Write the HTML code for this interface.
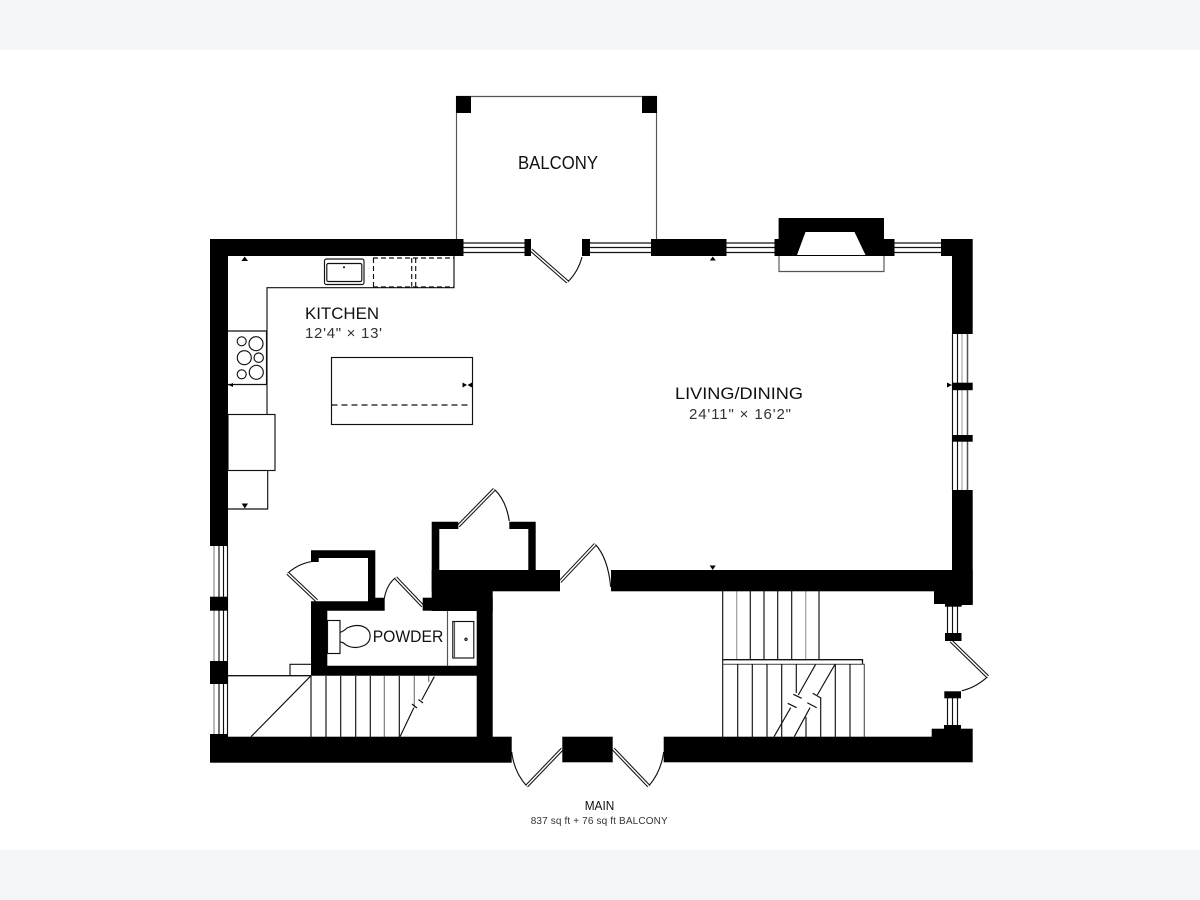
<!DOCTYPE html>
<html><head><meta charset="utf-8"><style>
html,body{margin:0;padding:0;background:#fff}
svg{display:block}
text{font-family:"Liberation Sans",sans-serif;fill:#111}
</style></head><body>
<svg width="1200" height="900" viewBox="0 0 1200 900" xmlns="http://www.w3.org/2000/svg">
<rect width="1200" height="900" fill="#fff"/>
<rect width="1200" height="50" fill="#f5f6f8"/>
<rect y="850" width="1200" height="50" fill="#f5f6f8"/>

<!-- thin lines -->
<g fill="none" stroke="#111" stroke-width="1.15">
<!-- balcony -->
<path stroke="#555" d="M456.5 239V96.5H656.5V239"/>
<!-- windows top -->
<path d="M463 243H525M463 247.5H525M463 252.5H525M590 243H651M590 247.5H651M590 252.5H651M726 243H775M726 247.5H775M726 252.5H775M894 243H941M894 247.5H941M894 252.5H941"/>
<!-- right windows -->
<path d="M952.5 334V490M957.5 334V490"/>
<path stroke="#bbb" stroke-width="1.5" d="M962 334V490"/>
<path stroke="#555" stroke-width="1.5" d="M967.5 334V490"/>
<!-- left windows -->
<path d="M219 546V734M223.5 546V734M227.5 546V734"/>
<path stroke="#888" d="M214 546V734"/>
<!-- side door windows -->
<path d="M947.5 604V634M952.5 604V634M957.5 604V634M947.5 698V726M952.5 698V726M957.5 698V726"/>
<!-- hearth -->
<path stroke="#555" d="M779 256V271.5H884V256"/>
<!-- kitchen counter -->
<path d="M454 256V287.7H267V414M228 331H266.5V384.5H228M267.7 470V509H228"/>
<rect x="324.5" y="259" width="39.5" height="25.5" rx="2"/>
<rect x="326.8" y="263.5" width="35" height="18" rx="1.5"/>
<path stroke-dasharray="5 3" d="M373.5 258V286.7M411.7 258V286.7M415.7 258V286.7M373 258H454M373 287H454"/>
<circle cx="241.7" cy="341.3" r="4.5"/><circle cx="256" cy="343.7" r="7"/><circle cx="244.3" cy="357.7" r="7"/>
<circle cx="258.7" cy="357.7" r="4.7"/><circle cx="241.7" cy="374.3" r="4.5"/><circle cx="256.3" cy="372.3" r="7"/>
<rect x="228" y="414.5" width="47" height="56"/>
<rect x="331.5" y="357.5" width="141" height="67"/>
<path stroke-dasharray="6 4" stroke-width="1.3" d="M331.5 405H470"/>
<!-- powder -->
<path stroke="#555" d="M447.5 611V666"/>
<rect x="327.5" y="620.5" width="12.5" height="33"/>
<rect x="452.8" y="621.5" width="21" height="36.5"/>
<path stroke="#555" d="M454.5 622V658"/>
<circle cx="466" cy="639.3" r="1.1"/>
<path d="M340 632.5Q344 631 347 628Q358 623 366 628Q371 632 370 637Q370 642 365 645Q355 650 346 645Q343 642 340 642"/>
<!-- small rect & stair left -->
<path d="M290 675.7V664.3H311"/>
<path stroke-width="1.3" d="M228 675.7H311"/>
<path d="M311 676V737M326 676V737M340.7 676V737M355.7 676V737M370.3 676V737M399.3 676V737"/>
<path stroke="#777" d="M384.3 676V737M414.3 676V708M428.7 676V682"/>
<path d="M311 675.7L251 736.7M434.3 676.7L421.7 700M413.7 708L400 736.7M418.5 699.5L423 703M412 704L417 708"/>
<!-- stair right -->
<path d="M722.7 591V737M750.3 591V660M764 591V660M777.7 591V660M791.7 591V660M819 591V660"/>
<path stroke="#999" d="M736.7 591V660M805.7 591V660"/>
<path stroke-width="1.3" d="M722.7 659.7H862.5V664.3"/>
<path stroke="#555" d="M722.7 664.3H864.3V737"/>
<path d="M737.7 664V737M752.3 664V737M767 664V737M781.7 664V737M796.3 664V693M806 717V737M820.7 698V737M835.3 664V737M850 664V737"/>
<path d="M815.7 664.3L798.3 695M835 664.3L817.3 695M790.7 707.7L774 736.7M810 707.7L794.3 736.7M793.3 694.3L801.7 698.3M812.7 693.3L821.3 698.3M787.7 703.3L796.7 707.7M807.3 702.7L816.7 707.7"/>
<!-- door arcs -->
<path d="M567.6 282Q578 272 582 257"/>
<path d="M494.3 489.3Q506 500 509.3 521"/>
<path d="M287.7 573.3Q298 564 311 561.7"/>
<path d="M395.7 577.7Q387 584 384.3 598.3"/>
<path d="M595.3 544.3Q608 558 610.7 587"/>
<path d="M526.7 786Q514 772 511.7 752"/>
<path d="M648.7 786Q661 772 663.7 752"/>
<path d="M987.7 676.7Q975 688 961.7 690.7"/>
</g>

<!-- door leaves -->
<g fill="none" stroke="#111" stroke-width="3.6">
<path d="M531 250L567.6 282M458.3 526L494.3 489.3M316.7 600.7L287.7 573.3M422.7 606L395.7 577.7M560 581.7L595.3 544.3M562.3 749L526.7 786M613.3 749L648.7 786M951 641L987.7 676.7"/>
</g>
<g fill="none" stroke="#fff" stroke-width="1.5">
<path d="M531 250L567.6 282M458.3 526L494.3 489.3M316.7 600.7L287.7 573.3M422.7 606L395.7 577.7M560 581.7L595.3 544.3M562.3 749L526.7 786M613.3 749L648.7 786M951 641L987.7 676.7"/>
</g>

<!-- walls -->
<g fill="#000">
<rect x="456" y="96" width="15" height="17"/>
<rect x="642" y="96" width="15" height="17"/>
<rect x="210" y="239" width="253.5" height="17"/>
<rect x="210" y="239" width="18" height="307"/>
<rect x="524.5" y="239" width="6.5" height="17"/>
<rect x="582" y="239" width="8" height="17"/>
<rect x="651" y="239" width="75.5" height="17"/>
<!-- fireplace -->
<path fill-rule="evenodd" d="M778.6 218H884V239H894.5V256H774.5V239H778.6ZM805.5 232L797 255H865.5L854.5 232Z"/>
<path d="M941 239H972.7V334H952V256H941Z"/>
<rect x="952" y="382.7" width="20.7" height="7.5"/>
<rect x="952" y="435" width="20.7" height="6.7"/>
<rect x="952" y="490" width="20.7" height="115"/>
<!-- south wall of living -->
<rect x="611" y="570" width="341" height="21.3"/>
<rect x="934" y="570" width="38.7" height="34"/>
<rect x="945" y="604" width="16.7" height="2.7"/>
<rect x="945" y="633" width="16.5" height="8"/>
<rect x="944.3" y="691.3" width="16.7" height="7"/>
<rect x="944" y="725" width="17" height="4"/>
<rect x="931.7" y="728.7" width="41" height="8.5"/>
<rect x="663.7" y="736.7" width="309" height="25.6"/>
<rect x="562.3" y="736.7" width="50.4" height="25.6"/>
<!-- left -->
<rect x="210" y="596.7" width="18" height="14"/>
<rect x="210" y="661" width="18" height="23"/>
<rect x="210" y="734" width="18" height="4"/>
<rect x="210" y="736.7" width="301.7" height="26"/>
<!-- closet 1 and powder walls -->
<path d="M311 550.3H375.3V597.7H384.7V610.7H327.3V665.7H476.7V610H492.7V737H476.7V675.7H311V601.3H368V558H318.7V562H311Z"/>
<rect x="431.7" y="570" width="128.3" height="21.3"/>
<rect x="431.7" y="570" width="61" height="41"/>
<rect x="422.7" y="597.7" width="70" height="13"/>
<!-- closet 2 -->
<path d="M431.7 521.7H458.3V529H439.3V570H431.7Z"/>
<path d="M509.3 521.7H535.7V570H528.3V529H509.3Z"/>
<!-- arrowheads -->
<path d="M241.5 261L244.7 256.5L248 261ZM709.8 260.5L712.8 256.5L715.8 260.5ZM709.7 565.5H715.7L712.7 570ZM241.7 503.5H248L244.8 508.5ZM233 383L228.5 385L233 387ZM947 382.5L952 385L947 387.5Z"/>
<path d="M462.5 382.5L467 385L462.5 387.5ZM472 382.5L467.5 385L472 387.5Z"/>
<circle cx="344" cy="267.3" r="1"/>
</g>

<!-- labels -->
<text x="305" y="319" font-size="17" textLength="74" lengthAdjust="spacingAndGlyphs">KITCHEN</text>
<text x="305" y="338" font-size="15" textLength="77" lengthAdjust="spacing" style="fill:#333">12'4" × 13'</text>
<text x="518" y="169" font-size="18" textLength="80" lengthAdjust="spacingAndGlyphs">BALCONY</text>
<text x="675" y="399" font-size="17" textLength="128" lengthAdjust="spacingAndGlyphs">LIVING/DINING</text>
<text x="689" y="419" font-size="15" textLength="102" lengthAdjust="spacing" style="fill:#333">24'11" × 16'2"</text>
<text x="372.7" y="642" font-size="17" textLength="70.6" lengthAdjust="spacingAndGlyphs">POWDER</text>
<text x="584.7" y="810" font-size="12.5" textLength="29.6" lengthAdjust="spacingAndGlyphs">MAIN</text>
<text x="530.7" y="824" font-size="10" textLength="137" lengthAdjust="spacing" style="fill:#333">837 sq ft + 76 sq ft BALCONY</text>
</svg>
</body></html>
